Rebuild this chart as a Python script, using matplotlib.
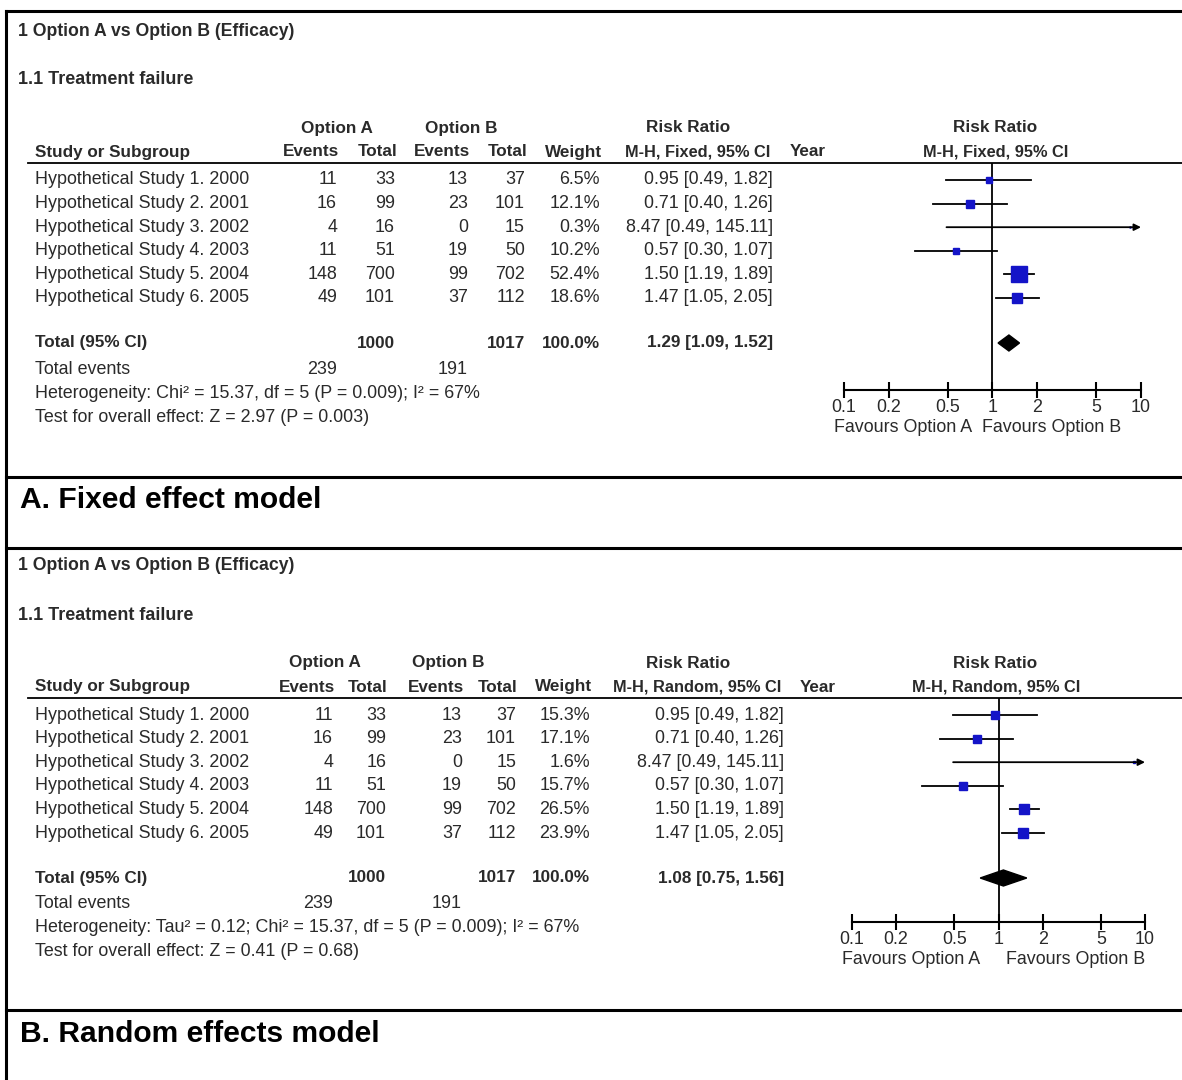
"""Forest plots: fixed vs random effects (Option A vs Option B)."""
import matplotlib.pyplot as plt
import numpy as np

plt.rcParams["font.family"] = ["Liberation Sans", "DejaVu Sans"]

W, H = 1182, 1080
TXT = "#2a2a2a"
BLUE = "#1414c8"

# ---- data ----
studies = [
    "Hypothetical Study 1. 2000",
    "Hypothetical Study 2. 2001",
    "Hypothetical Study 3. 2002",
    "Hypothetical Study 4. 2003",
    "Hypothetical Study 5. 2004",
    "Hypothetical Study 6. 2005",
]
events_a = [11, 16, 4, 11, 148, 49]
total_a = [33, 99, 16, 51, 700, 101]
events_b = [13, 23, 0, 19, 99, 37]
total_b = [37, 101, 15, 50, 702, 112]
rr = [0.95, 0.71, 8.47, 0.57, 1.50, 1.47]
rr_lo = [0.49, 0.40, 0.49, 0.30, 1.19, 1.05]
rr_hi = [1.82, 1.26, 145.11, 1.07, 1.89, 2.05]

weight_fixed = [6.5, 12.1, 0.3, 10.2, 52.4, 18.6]
weight_random = [15.3, 17.1, 1.6, 15.7, 26.5, 23.9]
pooled_fixed = (1.29, 1.09, 1.52)
pooled_random = (1.08, 0.75, 1.56)

het_fixed = "Heterogeneity: Chi\u00b2 = 15.37, df = 5 (P = 0.009); I\u00b2 = 67%"
het_random = ("Heterogeneity: Tau\u00b2 = 0.12; Chi\u00b2 = 15.37, df = 5 "
              "(P = 0.009); I\u00b2 = 67%")
test_fixed = "Test for overall effect: Z = 2.97 (P = 0.003)"
test_random = "Test for overall effect: Z = 0.41 (P = 0.68)"

ticks = [0.1, 0.2, 0.5, 1, 2, 5, 10]
tick_labels = ["0.1", "0.2", "0.5", "1", "2", "5", "10"]

# ---- layout (pixels) ----
panels = [
    dict(off=0, method="Fixed", weights=weight_fixed, pooled=pooled_fixed,
         het=het_fixed, test=test_fixed, label="A. Fixed effect model",
         cols=[337, 395, 468, 525, 600, 773, 788], hA=337, hB=461,
         f0=844, f1=1141, axis=390, sep=477, lab=500, sq=2.1, fav=(972, 982)),
    dict(off=535, method="Random", weights=weight_random, pooled=pooled_random,
         het=het_random, test=test_random, label="B. Random effects model",
         cols=[333, 386, 462, 516, 590, 784, 798], hA=325, hB=448,
         f0=852, f1=1145, axis=922, sep=1010, lab=1034, sq=2.0,
         fav=(980, 1006)),
]

FS = 12.9
HS = 12.3
fig = plt.figure(figsize=(W / 100, H / 100), dpi=100)
ax = fig.add_axes([0, 0, 1, 1])
ax.set_xlim(0, W)
ax.set_ylim(H, 0)
ax.axis("off")

# outer frame
ax.plot([6, 6], [11, H], color="black", lw=2.2)
ax.plot([6, W], [11, 11], color="black", lw=2.2)
ax.plot([6, W], [548, 548], color="black", lw=2.2)


def t(x, y, s, ha="left", bold=False, size=FS, color=TXT):
    ax.text(x, y, s, ha=ha, va="center", fontsize=size, color=color,
            fontweight="bold" if bold else "normal")


for p in panels:
    o = p["off"]
    c = p["cols"]
    t(18, 31 + o, "1 Option A vs Option B (Efficacy)", bold=True, size=12.7)
    t(18, 80 + o, "1.1 Treatment failure", bold=True, size=13)

    # header
    t(p["hA"], 128 + o, "Option A", ha="center", bold=True, size=HS)
    t(p["hB"], 128 + o, "Option B", ha="center", bold=True, size=HS)
    t(688, 128 + o, "Risk Ratio", ha="center", bold=True, size=HS)
    t(995, 128 + o, "Risk Ratio", ha="center", bold=True, size=HS)
    t(35, 152 + o, "Study or Subgroup", bold=True, size=HS)
    for x, s in zip(c[:5], ["Events", "Total", "Events", "Total", "Weight"]):
        t(x + 2, 152 + o, s, ha="right", bold=True, size=HS)
    mh = f"M-H, {p['method']}, 95% CI"
    t(c[5] - 3, 152 + o, mh, ha="right", bold=True, size=11.8)
    t(c[6] + 2, 152 + o, "Year", bold=True, size=HS)
    t(996, 152 + o, mh, ha="center", bold=True, size=11.8)
    ax.plot([28, W], [163 + o, 163 + o], color="black", lw=1.3)

    # rows
    ys = 180 + o + 23.6 * np.arange(len(studies))
    for i, y in enumerate(ys):
        t(35, y, studies[i])
        t(c[0], y, str(events_a[i]), ha="right")
        t(c[1], y, str(total_a[i]), ha="right")
        t(c[2], y, str(events_b[i]), ha="right")
        t(c[3], y, str(total_b[i]), ha="right")
        t(c[4], y, f"{p['weights'][i]:.1f}%", ha="right")
        t(c[5], y, f"{rr[i]:.2f} [{rr_lo[i]:.2f}, {rr_hi[i]:.2f}]", ha="right")

    est, lo, hi = p["pooled"]
    ytot = 343 + o
    t(35, ytot, "Total (95% CI)", bold=True, size=HS)
    t(c[1], ytot, str(sum(total_a)), ha="right", bold=True, size=HS)
    t(c[3], ytot, str(sum(total_b)), ha="right", bold=True, size=HS)
    t(c[4], ytot, "100.0%", ha="right", bold=True, size=HS)
    t(c[5], ytot, f"{est:.2f} [{lo:.2f}, {hi:.2f}]", ha="right", bold=True,
      size=HS)
    t(35, ytot + 26, "Total events")
    t(c[0], ytot + 26, str(sum(events_a)), ha="right")
    t(c[2], ytot + 26, str(sum(events_b)), ha="right")
    t(35, ytot + 50, p["het"])
    t(35, ytot + 74, p["test"])

    # forest panel
    top, bot = 163 + o, p["axis"]
    fa = fig.add_axes([p["f0"] / W, 1 - bot / H, (p["f1"] - p["f0"]) / W,
                       (bot - top) / H])
    fa.set_facecolor("none")
    fa.set_xscale("log")
    fa.set_xlim(0.1, 10)
    fa.set_ylim(bot, top)
    for s in ["left", "right", "top"]:
        fa.spines[s].set_visible(False)
    fa.spines["bottom"].set_linewidth(1.5)
    fa.set_yticks([])
    fa.set_xticks(ticks)
    fa.set_xticklabels(tick_labels)
    fa.minorticks_off()
    fa.tick_params(axis="x", direction="inout", length=11, width=1.5,
                   labelsize=FS, labelcolor=TXT, pad=1)
    fa.axvline(1, color="black", lw=1.3)
    for i, y in enumerate(ys):
        if rr_hi[i] > 10:
            fa.annotate("", xy=(10, y), xytext=(rr_lo[i], y),
                        arrowprops=dict(arrowstyle="-|>", color="black",
                                        lw=1.3, mutation_scale=10,
                                        shrinkA=0, shrinkB=0),
                        annotation_clip=False)
        else:
            fa.plot([rr_lo[i], rr_hi[i]], [y, y], color="black", lw=1.3)
        side = p["sq"] * np.sqrt(p["weights"][i]) * 0.72
        fa.plot(rr[i], y, marker="s", ms=side, color=BLUE, mec=BLUE,
                clip_on=False)
    fa.fill([lo, est, hi, est], [ytot, ytot - 8, ytot, ytot + 8],
            color="black")

    t(p["fav"][0], bot + 38, "Favours Option A", ha="right")
    t(p["fav"][1], bot + 38, "Favours Option B", ha="left")

    # panel label
    ax.plot([6, W], [p["sep"], p["sep"]], color="black", lw=2.2)
    t(20, p["lab"], p["label"], bold=True, size=21.6, color="black")

fig.savefig("out.png", dpi=100)
